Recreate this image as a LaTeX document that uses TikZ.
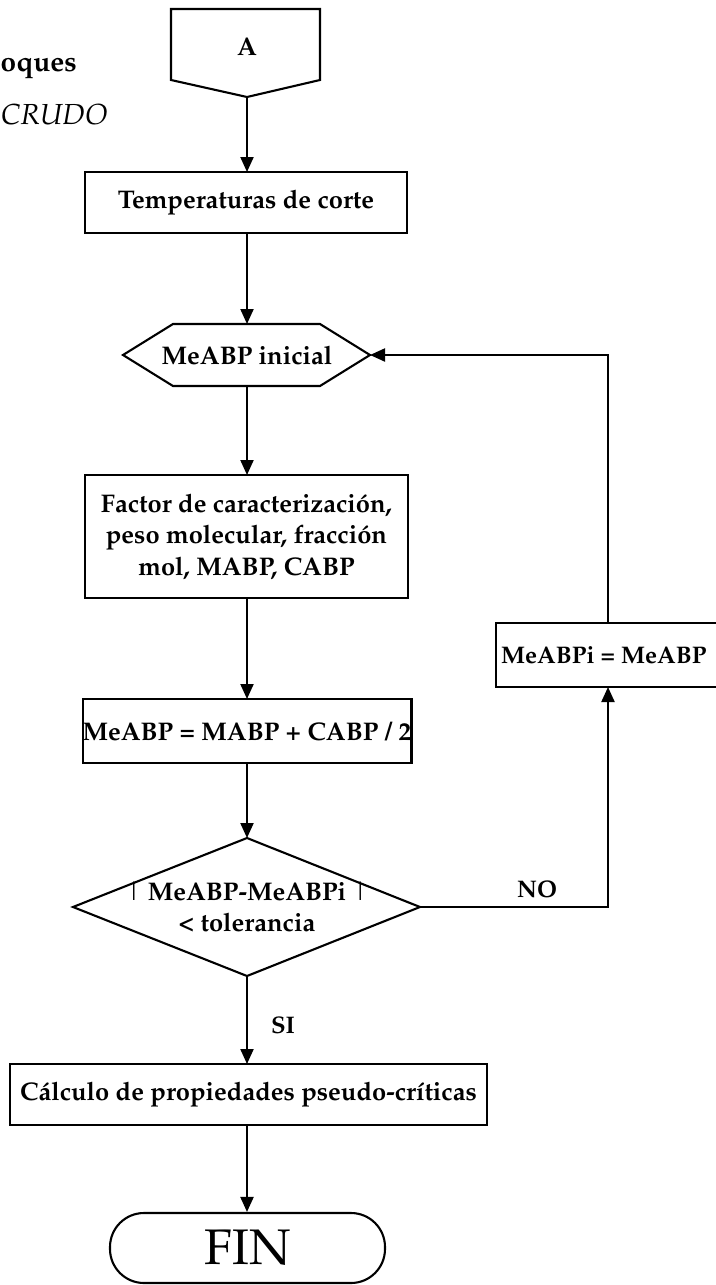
\documentclass[tikz,border=0pt]{standalone}
\usepackage[T1]{fontenc}
\usepackage{mathpazo}
\usetikzlibrary{arrows.meta}
\begin{document}
\begin{tikzpicture}[x=1pt,y=-1pt,
  line/.style={line width=2.1pt, line join=miter},
  arr/.style={line, -{Triangle[length=15pt,width=13pt]}},
  box/.style={draw, line, inner sep=0pt, outer sep=0pt, align=center,
    font=\fontsize{25.5}{31.5}\selectfont\bfseries},
  txt/.style={inner sep=0pt, align=center, font=\fontsize{25.5}{31}\selectfont\bfseries},
  lbl/.style={inner sep=0pt, font=\fontsize{24}{28}\selectfont\bfseries}]
\useasboundingbox (0,0) rectangle (715,1285);

% left cut-off texts
\node[inner sep=0pt, anchor=west, font=\fontsize{28}{32}\selectfont\bfseries] (t1) at (0.5,68) {oques};
\node[inner sep=0pt, anchor=west, font=\fontsize{29}{32}\selectfont\itshape] (t2) at (1,115) {CRUDO};

% A : off-page connector
\coordinate (Atl) at (171,9);
\coordinate (Atr) at (320,9);
\coordinate (Abr) at (320,80);
\coordinate (Abot) at (247,97);
\coordinate (Abl) at (171,80);
\draw[line] (Atl) -- (Atr) -- (Abr) -- (Abot) -- (Abl) -- cycle;
\node[txt] (Atext) at (247,47) {A};

% Temperaturas de corte
\node[box, minimum width=322pt, minimum height=61pt] (temp) at (246,202.5) {Temperaturas de corte};

% hexagon MeABP inicial
\coordinate (Hl) at (123,355);
\coordinate (Htl) at (173,324);
\coordinate (Htop) at (247,324);
\coordinate (Htr) at (320,324);
\coordinate (Hr) at (370,355);
\coordinate (Hbr) at (320,386);
\coordinate (Hbot) at (247,386);
\coordinate (Hbl) at (173,386);
\draw[line] (Hl) -- (Htl) -- (Htr) -- (Hr) -- (Hbr) -- (Hbl) -- cycle;
\node[txt] (Htext) at (247,355) {MeABP inicial};

% Factor box
\node[box, minimum width=323pt, minimum height=123pt] (fac) at (246.5,536.5)
  {Factor de caracterizaci\'on,\\peso molecular, fracci\'on\\mol, MABP, CABP};

% MeABP = box
\node[box, minimum width=322pt, minimum height=64pt] (meabp) at (247,731)
  {MeABP = MABP + CABP / 2};

% diamond
\coordinate (Dt) at (247,838);
\coordinate (Dr) at (420,907);
\coordinate (Db) at (247,976);
\coordinate (Dl) at (73,907);
\draw[line] (Dt) -- (Dr) -- (Db) -- (Dl) -- cycle;
\node[txt] (Dtext) at (247,907) {{\mdseries\textbar} MeABP-MeABPi {\mdseries\textbar}\\\textless{} tolerancia};

% MeABPi = MeABP
\node[box, minimum width=222pt, minimum height=64pt] (mi) at (607,655) {};
\node[txt, anchor=west, font=\fontsize{24}{28}\selectfont\bfseries] (mitext) at (501,655) {MeABPi = MeABP};
\coordinate (Ncorner) at (608,907);
\coordinate (Ucorner) at (608,355);

% Calculo box
\node[box, minimum width=477pt, minimum height=61pt] (calc) at (248.5,1094.5)
  {C\'alculo de propiedades pseudo-cr\'iticas};

% FIN
\node[draw, line, inner sep=0pt, minimum width=275pt, minimum height=70pt,
  rounded corners=34pt, font=\fontsize{50}{54}\selectfont] (fin) at (247.5,1248) {FIN};

% connectors
\draw[arr] (Abot) -- (temp.north -| Abot);
\draw[arr] (temp.south -| Htop) -- (Htop);
\draw[arr] (Hbot) -- (fac.north -| Hbot);
\draw[arr] (fac.south -| Hbot) -- (meabp.north -| Hbot);
\draw[arr] (meabp.south -| Dt) -- (Dt);
\draw[arr] (Db) -- (calc.north -| Db);
\draw[arr] (calc.south -| Db) -- (fin.north -| Db);
\draw[arr] (Dr) -- (Ncorner) -- (mi.south -| Ncorner);
\draw[arr] (mi.north -| Ucorner) -- (Ucorner) -- (Hr);

% labels
\node[lbl] (no) at (537,889) {NO};
\node[lbl] (si) at (283,1025) {SI};
\end{tikzpicture}
\end{document}
